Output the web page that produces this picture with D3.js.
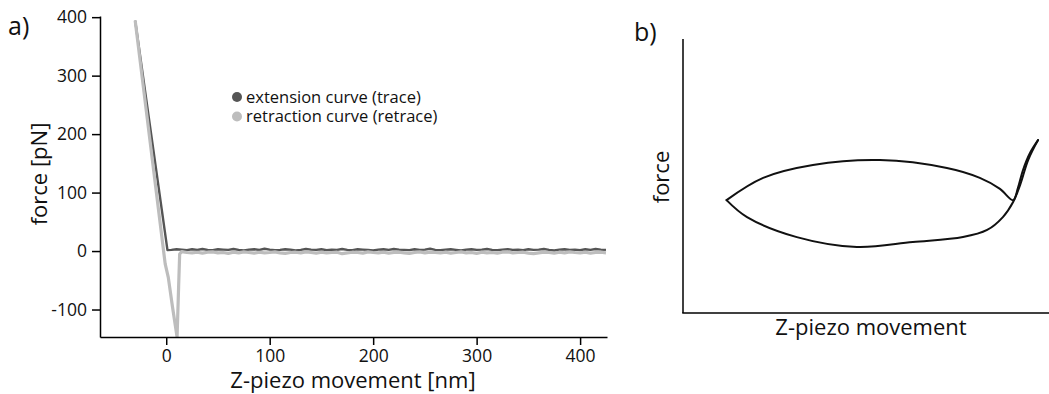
<!DOCTYPE html>
<html>
<head>
<meta charset="utf-8">
<script src="https://cdn.jsdelivr.net/npm/d3@7"></script>
<style>
  body { margin: 0; background: #fff; }
  svg { display: block; font-family: "Open Sans", sans-serif; }
</style>
</head>
<body>
<svg width="1049" height="394"></svg>
<script>
// Panel a: force curve data (nm, pN)
var flatX = [15, 20, 25, 30, 35, 40, 45, 50, 55, 60,
  65, 70, 75, 80, 85, 90, 95, 100, 105, 110,
  115, 120, 125, 130, 135, 140, 145, 150, 155, 160,
  165, 170, 175, 180, 185, 190, 195, 200, 205, 210,
  215, 220, 225, 230, 235, 240, 245, 250, 255, 260,
  265, 270, 275, 280, 285, 290, 295, 300, 305, 310,
  315, 320, 325, 330, 335, 340, 345, 350, 355, 360,
  365, 370, 375, 380, 385, 390, 395, 400, 405, 410,
  415, 420, 425];

var extX = [-30, 1.2, 5, 10].concat(flatX);
var extF = [394, 1.5, 2, 3,
  2.5, 1.5, 3, 2, 3.5, 2, 1.5, 3, 2.5, 2,
  3.5, 2, 1, 2.5, 3, 2, 4, 2.5, 1.5, 2,
  3, 2.5, 1, 2, 3.5, 2.5, 2, 3, 1.5, 2.5,
  2, 3.5, 2, 1.5, 3, 2.5, 2, 1, 2.5, 3,
  2, 3.5, 2.5, 2, 1.5, 3, 2, 2.5, 4, 2,
  1.5, 2.5, 3, 2, 1, 2.5, 3, 2, 2.5, 3.5,
  2, 1.5, 2.5, 3, 2, 2.5, 1.5, 3, 2, 2.5,
  3.5, 2, 1, 2.5, 3, 2, 2.5, 1.5, 3, 2,
  3.5, 2.5, 2];

var retX = [-30, -1, 2, 6, 10.5, 12, 13].concat(flatX);
var retF = [394, -22, -45, -95, -147, -60, -5,
  -1, -2.5, -3, -2, -3.5, -2, -1.5, -3, -2.5, -4,
  -2, -3, -1.5, -2.5, -3.5, -2, -3, -2.5, -1.5, -3,
  -4, -2.5, -2, -3, -1.5, -2.5, -3.5, -2, -3, -2.5,
  -2, -4.5, -3, -2, -2.5, -3.5, -1.5, -2.5, -3, -2,
  -3.5, -2.5, -2, -3, -4, -2.5, -1.5, -3, -2, -2.5,
  -3, -2, -3.5, -2.5, -1.5, -3, -2.5, -4, -2, -3,
  -2.5, -3.5, -2, -1.5, -3, -2.5, -2, -3.5, -4.5, -3,
  -2, -2.5, -3.5, -2, -3, -1.5, -2.5, -3, -2, -3.5,
  -2.5, -2, -3];

var xTicksA = [0, 100, 200, 300, 400];
var yTicksA = [-100, 0, 100, 200, 300, 400];
var legendLabels = ["extension curve (trace)", "retraction curve (retrace)"];

// Panel b: schematic loop (arbitrary units 0-100)
var approachX = [11.9, 21.9, 35.5, 53.8, 72.1, 81.1, 86.6, 90.2, 91.5, 92.9, 94.8, 97.0];
var approachF = [41.2, 49.3, 54.0, 55.8, 52.9, 49.3, 45.3, 41.2, 45.6, 52.2, 58.4, 63.1];
var retractX = [11.9, 17.5, 31.1, 47.5, 62.8, 76.5, 83.1, 87.4, 90.2, 92.1, 94.3, 97.0];
var retractF = [41.2, 35.0, 27.7, 24.1, 25.9, 27.7, 30.3, 35.0, 40.5, 46.7, 55.8, 63.1];

var darkCol = "#555555", lightCol = "#bdbdbd";
var svg = d3.select("svg");

// ---------- panel a ----------
var x = d3.scaleLinear().domain([-64, 426]).range([100, 607]);
var y = d3.scaleLinear().domain([-147, 402]).range([337, 16]);

svg.append("clipPath").attr("id", "clipA")
  .append("rect").attr("x", 100).attr("y", 10).attr("width", 507).attr("height", 327);

var line = d3.line().x(function(d) { return x(d[0]); }).y(function(d) { return y(d[1]); });

var ext = extX.map(function(v, i) { return [v, extF[i]]; });
var ret = retX.map(function(v, i) { return [v, retF[i]]; });

var plot = svg.append("g").attr("clip-path", "url(#clipA)");
plot.append("path").datum(ext)
  .attr("d", line).attr("fill", "none")
  .attr("stroke", darkCol).attr("stroke-width", 2.4).attr("stroke-linejoin", "round");
plot.append("path").datum(ret)
  .attr("d", line).attr("fill", "none")
  .attr("stroke", lightCol).attr("stroke-width", 3.2).attr("stroke-linejoin", "round");

var fmt = function(d) { return String(d); };  // plain hyphen for negatives
var xAxis = svg.append("g").attr("transform", "translate(0,337)")
  .call(d3.axisBottom(x).tickValues(xTicksA).tickFormat(fmt)
    .tickSizeInner(8).tickSizeOuter(0).tickPadding(5));
var yAxis = svg.append("g").attr("transform", "translate(100,0)")
  .call(d3.axisLeft(y).tickValues(yTicksA).tickFormat(fmt)
    .tickSizeInner(8).tickSizeOuter(0).tickPadding(5));

[xAxis, yAxis].forEach(function(a) {
  a.selectAll("path, line").attr("stroke", "#000").attr("stroke-width", 1.5);
  a.selectAll("text").attr("font-size", 17.5).attr("fill", "#111")
    .style("font-family", "'Open Sans', sans-serif");
});

svg.append("text").attr("x", 353).attr("y", 388)
  .attr("text-anchor", "middle").attr("font-size", 22).attr("fill", "#111")
  .text("Z-piezo movement [nm]");
svg.append("text").attr("transform", "translate(47,174) rotate(-90)")
  .attr("text-anchor", "middle").attr("font-size", 22).attr("fill", "#111")
  .text("force [pN]");
svg.append("text").attr("x", 8).attr("y", 35)
  .attr("font-size", 25).attr("fill", "#111").text("a)");

// legend
var leg = svg.append("g");
legendLabels.forEach(function(lbl, i) {
  var yy = 97 + i * 19.5;
  leg.append("circle").attr("cx", 237).attr("cy", yy).attr("r", 5)
    .attr("fill", i === 0 ? darkCol : lightCol);
  leg.append("text").attr("x", 246).attr("y", yy + 5.5)
    .attr("font-size", 16.5).attr("fill", "#111").text(lbl);
});

// ---------- panel b ----------
var xb = d3.scaleLinear().domain([0, 100]).range([683, 1049]);
var yb = d3.scaleLinear().domain([0, 100]).range([313, 39]);

var lineB = d3.line().curve(d3.curveCatmullRom.alpha(0.5))
  .x(function(d) { return xb(d[0]); }).y(function(d) { return yb(d[1]); });

var app = approachX.map(function(v, i) { return [v, approachF[i]]; });
var rtr = retractX.map(function(v, i) { return [v, retractF[i]]; });

[app, rtr].forEach(function(s) {
  svg.append("path").datum(s).attr("d", lineB)
    .attr("fill", "none").attr("stroke", "#111").attr("stroke-width", 2)
    .attr("stroke-linejoin", "round").attr("stroke-linecap", "round");
});

svg.append("line").attr("x1", xb(0)).attr("x2", xb(0)).attr("y1", yb(100)).attr("y2", yb(0))
  .attr("stroke", "#000").attr("stroke-width", 1.5);
svg.append("line").attr("x1", xb(0) - 0.75).attr("x2", xb(100)).attr("y1", yb(0)).attr("y2", yb(0))
  .attr("stroke", "#000").attr("stroke-width", 1.5);

svg.append("text").attr("x", 871).attr("y", 335)
  .attr("text-anchor", "middle").attr("font-size", 22).attr("fill", "#111")
  .text("Z-piezo movement");
svg.append("text").attr("transform", "translate(669,177) rotate(-90)")
  .attr("text-anchor", "middle").attr("font-size", 22).attr("fill", "#111")
  .text("force");
svg.append("text").attr("x", 634).attr("y", 41)
  .attr("font-size", 25).attr("fill", "#111").text("b)");
</script>
</body>
</html>
